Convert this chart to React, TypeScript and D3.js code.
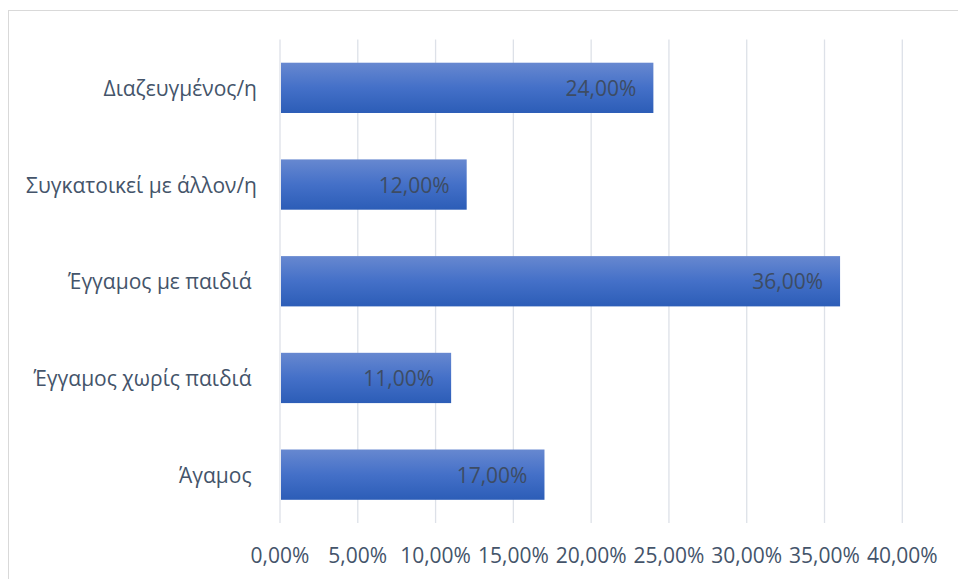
import React from "react";
import * as d3 from "d3";

const categories = [
  "Διαζευγμένος/η",
  "Συγκατοικεί με άλλον/η",
  "Έγγαμος με παιδιά ",
  "Έγγαμος χωρίς παιδιά ",
  "Άγαμος ",
];
const values = [24, 12, 36, 11, 17];
const ticks = [0, 5, 10, 15, 20, 25, 30, 35, 40];

const W = 958;
const H = 579;
const FONT = "'Open Sans', 'Noto Sans', sans-serif";
const TEXT = "#44546a";

const fmt = (v: number) => v.toFixed(2).replace(".", ",") + "%";

export default function App() {
  const x = d3.scaleLinear().domain([0, 40]).range([280, 902.3]);
  const y = d3.scaleBand<string>().domain(categories).range([39.5, 523]).paddingInner(0.48).paddingOuter(0.24);

  return (
    <svg width={W} height={H} style={{ position: "absolute", left: 0, top: 0, background: "#fff" }}>
      <defs>
        <linearGradient id="barGrad" x1="0" y1="0" x2="0" y2="1">
          <stop offset="0%" stopColor="#6788d0" />
          <stop offset="50%" stopColor="#4470c8" />
          <stop offset="100%" stopColor="#2c5db7" />
        </linearGradient>
      </defs>
      <rect x={8.5} y={10.5} width={960} height={580} fill="#fff" stroke="#d9d9d9" strokeWidth={1} />
      {ticks.map((t) => (
        <line key={t} x1={x(t)} x2={x(t)} y1={39.5} y2={523} stroke="#dde1e8" strokeWidth={1.3} />
      ))}
      {categories.map((c, i) => (
        <rect
          key={c}
          x={x(0) + 1}
          y={y(c)!}
          width={x(values[i]) - x(0) - 1}
          height={y.bandwidth()}
          fill="url(#barGrad)"
        />
      ))}
      {categories.map((c, i) => (
        <text
          key={"l" + c}
          x={x(values[i]) - 17}
          y={y(c)! + y.bandwidth() / 2}
          textAnchor="end"
          dominantBaseline="central"
          fontFamily={FONT}
          fontSize={21}
          fill="#3d4c63"
        >
          {fmt(values[i])}
        </text>
      ))}
      {categories.map((c) => (
        <text
          key={"c" + c}
          x={257}
          y={y(c)! + y.bandwidth() / 2}
          textAnchor="end"
          dominantBaseline="central"
          fontFamily={FONT}
          fontSize={21}
          fill={TEXT}
          style={{ whiteSpace: "pre" }}
        >
          {c}
        </text>
      ))}
      {ticks.map((t) => (
        <text
          key={"t" + t}
          x={x(t)}
          y={555}
          textAnchor="middle"
          dominantBaseline="central"
          fontFamily={FONT}
          fontSize={21}
          fill={TEXT}
        >
          {fmt(t)}
        </text>
      ))}
    </svg>
  );
}
